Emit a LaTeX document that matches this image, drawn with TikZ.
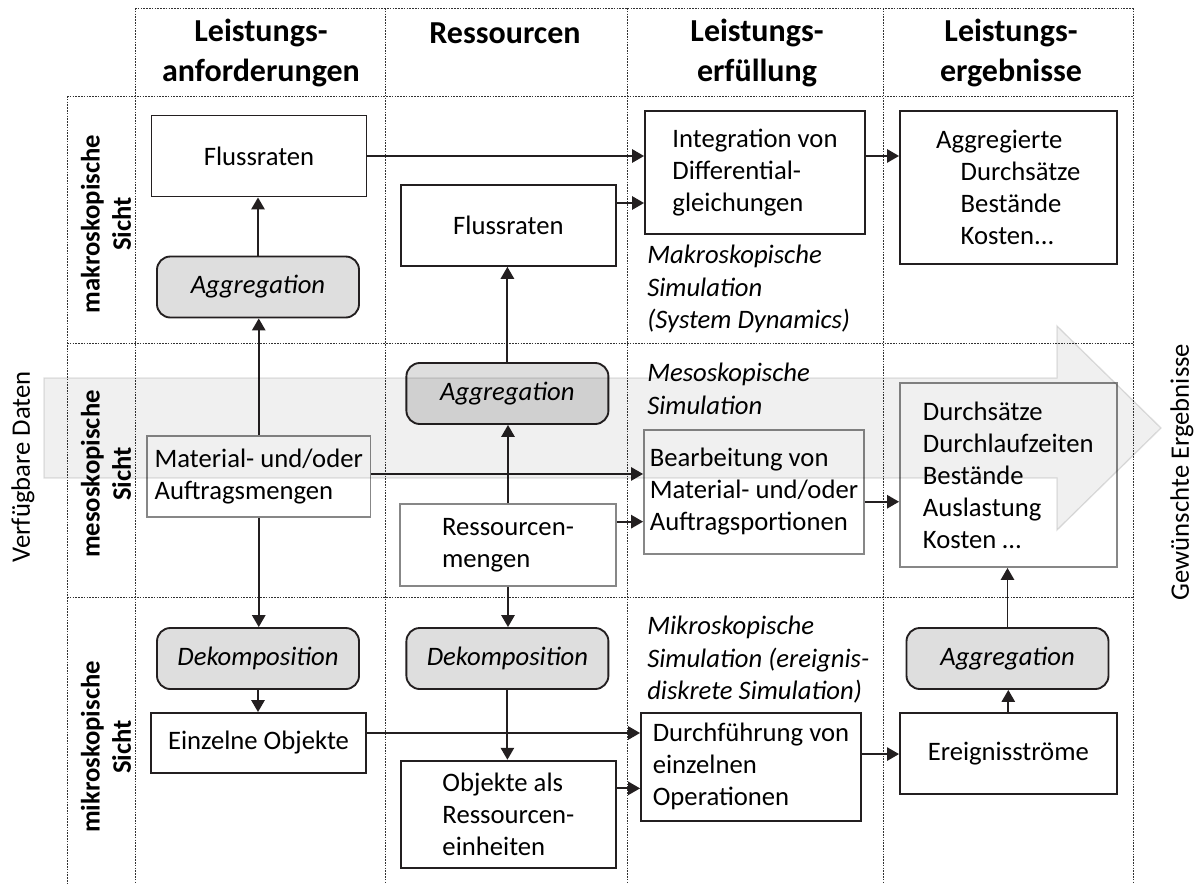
\documentclass[tikz,border=0pt]{standalone}
\usepackage{fontspec}
\setmainfont{Carlito}
\usetikzlibrary{arrows.meta}

\definecolor{linecol}{RGB}{35,31,32}
\definecolor{procfill}{RGB}{222,222,222}
\definecolor{softedge}{RGB}{135,135,135}
\definecolor{gridcol}{RGB}{50,50,50}

\tikzset{
  grid/.style={draw=gridcol, line width=0.6pt, dash pattern=on 1.2pt off 0.9pt},
  txt/.style={font=\fontsize{20}{24}\selectfont, align=left, inner sep=0pt},
  box/.style={txt, draw=linecol, line width=1.4pt, fill=white},
  softbox/.style={txt, draw=softedge, line width=1.4pt, fill=white},
  proc/.style={draw=linecol, line width=1.4pt, fill=procfill, rounded corners=10pt,
    minimum width=151.5pt, minimum height=45.75pt, inner sep=0pt,
    font=\fontsize{20}{24}\selectfont\itshape},
  note/.style={font=\fontsize{20}{24.4}\selectfont\itshape, align=left, inner sep=0pt, anchor=west},
  head/.style={font=\fontsize{24}{29.3}\selectfont\bfseries, align=center, inner sep=0pt},
  rowlab/.style={font=\fontsize{20}{23.3}\selectfont\bfseries, align=center, inner sep=0pt, rotate=90},
  side/.style={font=\fontsize{20}{24}\selectfont, inner sep=0pt, rotate=90},
  arr/.style={draw=linecol, line width=1.4pt, -{Triangle[length=9pt,width=10pt]}},
  bigarrow/.style={fill=black, fill opacity=0.06, draw=black, draw opacity=0.12, line width=1pt}
}

\begin{document}
\begin{tikzpicture}[x=0.75pt,y=-0.75pt]
\useasboundingbox (0,0) rectangle (1199,883);

% dotted table grid
\draw[grid] (135,8) -- (1133,8);
\draw[grid] (67,96) -- (1133,96);
\draw[grid] (67,343) -- (1133,343);
\draw[grid] (67,597) -- (1133,597);
\draw[grid] (67,96) -- (67,883);
\foreach \x in {135,385,627,883,1133} \draw[grid] (\x,8) -- (\x,883);

% column headings
\node[head] (h1) at (261,53) {Leistungs-\\anforderungen};
\node[head] (h2) at (505,33) {Ressourcen};
\node[head] (h3) at (757,53) {Leistungs-\\erfüllung};
\node[head] (h4) at (1011,53) {Leistungs-\\ergebnisse};

% row headings
\node[rowlab] (r1) at (106,224) {makroskopische\\Sicht};
\node[rowlab] (r2) at (106,474) {mesoskopische\\Sicht};
\node[rowlab] (r3) at (106,747) {mikroskopische\\Sicht};

% outer labels
\node[side] (vd) at (23,467) {Verfügbare Daten};
\node[side] (ge) at (1182,472) {Gewünschte Ergebnisse};

% macroscopic row
\node[box, minimum width=161.25pt, minimum height=60.75pt, align=center] (fr1) at (259,156) {Flussraten};
\node[box, minimum width=161.25pt, minimum height=60.75pt, align=center] (fr2) at (508.4,225.4) {Flussraten};
\node[proc] (agg1) at (258,287) {Aggregation};
\node[box, minimum width=165pt, minimum height=92.25pt] (integ) at (755,172.5) {Integration von\\Differential-\\gleichungen};
\node[box, minimum width=162.5pt, minimum height=114.75pt] (aggres) at (1008.3,187.5)
  {Aggregierte\\\hspace*{18.4pt}Durchsätze\\\hspace*{18.4pt}Bestände\\\hspace*{18.4pt}Kosten...};
\node[note] (nmak) at (647,289) {Makroskopische\\Simulation\\(System Dynamics)};

% mesoscopic row
\node[softbox, minimum width=167.6pt, minimum height=60.5pt] (mat) at (258.75,476.35) {Material- und/oder\\Auftragsmengen};
\node[proc] (agg2) at (507.4,393.5) {Aggregation};
\node[softbox, minimum width=162pt, minimum height=61.3pt] (resm) at (508,544.85) {Ressourcen-\\mengen};
\node[softbox, minimum width=165pt, minimum height=93pt] (bearb) at (754,492) {Bearbeitung von\\Material- und/oder\\Auftragsportionen};
\node[softbox, minimum width=162.5pt, minimum height=138pt] (durch) at (1008.3,475) {Durchsätze\\Durchlaufzeiten\\Bestände\\Auslastung\\Kosten …};
\node[note] (nmes) at (647,389) {Mesoskopische\\Simulation};

% microscopic row
\node[proc] (dek1) at (258,658.5) {Dekomposition};
\node[proc] (dek2) at (507.4,658.5) {Dekomposition};
\node[proc] (agg3) at (1007.5,658.5) {Aggregation};
\node[box, minimum width=161.25pt, minimum height=44.8pt, align=center] (einz) at (258.5,742.85) {Einzelne Objekte};
\node[box, minimum width=161.25pt, minimum height=80.5pt] (obj) at (508.4,814.35) {Objekte als\\Ressourcen-\\einheiten};
\node[box, minimum width=165pt, minimum height=80.8pt] (durchf) at (751,766.85) {Durchführung von\\einzelnen\\Operationen};
\node[box, minimum width=162.5pt, minimum height=60.75pt, align=center] (ereig) at (1008.3,753.5) {Ereignisströme};
\node[note] (nmik) at (647,660) {Mikroskopische\\Simulation (ereignis-\\diskrete Simulation)};

% start points of the horizontal connectors
\coordinate (s1) at (fr1.east);
\coordinate (s2) at ([yshift=16.8pt]fr2.east);
\coordinate (s3) at ([yshift=12.4pt]integ.east);
\coordinate (s4) at ([yshift=1.8pt]mat.east);
\coordinate (s5) at ([yshift=17.4pt]resm.east);
\coordinate (s6) at ([yshift=-7.3pt]bearb.east);
\coordinate (s7) at ([yshift=7.4pt]einz.east);
\coordinate (s8) at ([yshift=19.5pt]obj.east);
\coordinate (s9) at ([yshift=9.6pt]durchf.east);

% horizontal connectors
\draw[arr] (s1) -- (s1 -| integ.west);
\draw[arr] (s2) -- (s2 -| integ.west);
\draw[arr] (s3) -- (s3 -| aggres.west);
\draw[arr] (s4) -- (s4 -| bearb.west);
\draw[arr] (s5) -- (s5 -| bearb.west);
\draw[arr] (s6) -- (s6 -| durch.west);
\draw[arr] (s7) -- (s7 -| durchf.west);
\draw[arr] (s8) -- (s8 -| durchf.west);
\draw[arr] (s9) -- (s9 -| ereig.west);

% vertical connectors
\draw[arr] (agg1.north) -- (agg1.north |- fr1.south);
\draw[arr] (mat.north) -- (mat.north |- agg1.south);
\draw[arr] (mat.south) -- (mat.south |- dek1.north);
\draw[arr] (dek1.south) -- (dek1.south |- einz.north);
\draw[arr] (resm.north) -- (resm.north |- agg2.south);
\draw[arr] (agg2.north) -- (agg2.north |- fr2.south);
\draw[arr] (resm.south) -- (resm.south |- dek2.north);
\draw[arr] (dek2.south) -- (dek2.south |- obj.north);
\draw[arr] (ereig.north) -- (ereig.north |- agg3.south);
\draw[arr] (agg3.north) -- (agg3.north |- durch.south);

% translucent arrow from the available data to the desired results
\path[bigarrow] (44,378) -- (1057,378) -- (1057,326) -- (1161,428) -- (1057,530) -- (1057,478) -- (44,478) -- cycle;
\end{tikzpicture}
\end{document}
